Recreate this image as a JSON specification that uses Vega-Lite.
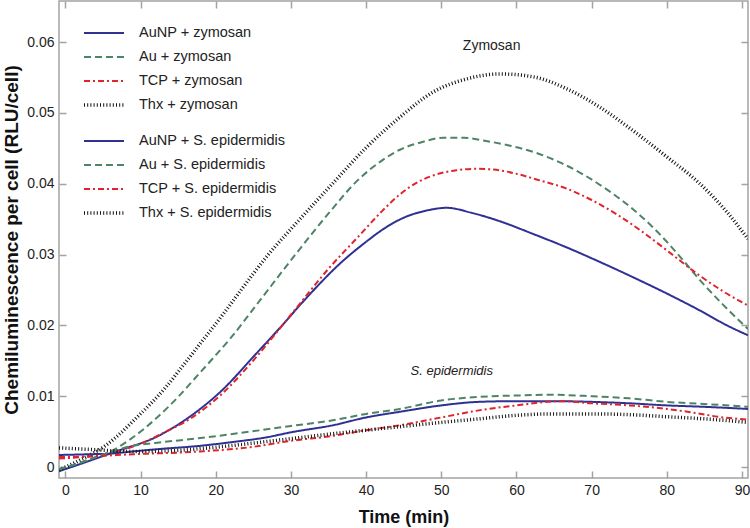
{
  "$schema": "https://vega.github.io/schema/vega-lite/v6.json",
  "width": 689,
  "height": 477,
  "autosize": {"type": "none"},
  "padding": {"left": 59, "top": 1, "right": 2, "bottom": 50},
  "background": "white",
  "config": {
    "font": "Liberation Sans",
    "view": {"stroke": "#a3a3a3", "strokeWidth": 1.5},
    "axis": {
      "domain": false,
      "grid": false,
      "tickColor": "#a3a3a3",
      "tickWidth": 1.5,
      "tickSize": -7,
      "labelFont": "Liberation Sans",
      "labelFontSize": 14,
      "labelColor": "#222222",
      "titleFont": "Liberation Sans",
      "titleFontWeight": "bold",
      "titleColor": "#111111"
    },
    "legend": {
      "labelFont": "Liberation Sans",
      "labelFontSize": 14.5,
      "labelColor": "#222222",
      "labelLimit": 0,
      "clipHeight": 20,
      "rowPadding": 4,
      "padding": 0,
      "symbolType": "stroke",
      "symbolSize": 1600,
      "labelOffset": 13,
      "orient": "none",
      "legendX": 23
    }
  },
  "datasets": {
    "zym": [
      {"s": "AuNP + zymosan", "t": -0.85, "v": -0.0006},
      {"s": "AuNP + zymosan", "t": 3, "v": 0.0008},
      {"s": "AuNP + zymosan", "t": 7, "v": 0.0023},
      {"s": "AuNP + zymosan", "t": 12, "v": 0.0042},
      {"s": "AuNP + zymosan", "t": 16.4, "v": 0.0070},
      {"s": "AuNP + zymosan", "t": 20.8, "v": 0.0108},
      {"s": "AuNP + zymosan", "t": 25.2, "v": 0.0158},
      {"s": "AuNP + zymosan", "t": 28.5, "v": 0.0196},
      {"s": "AuNP + zymosan", "t": 32, "v": 0.0238},
      {"s": "AuNP + zymosan", "t": 36.5, "v": 0.0287},
      {"s": "AuNP + zymosan", "t": 40, "v": 0.0318},
      {"s": "AuNP + zymosan", "t": 42.3, "v": 0.0336},
      {"s": "AuNP + zymosan", "t": 45, "v": 0.0352},
      {"s": "AuNP + zymosan", "t": 48, "v": 0.0362},
      {"s": "AuNP + zymosan", "t": 50.7, "v": 0.0366},
      {"s": "AuNP + zymosan", "t": 54, "v": 0.0359},
      {"s": "AuNP + zymosan", "t": 57.8, "v": 0.0347},
      {"s": "AuNP + zymosan", "t": 62, "v": 0.0330},
      {"s": "AuNP + zymosan", "t": 66.7, "v": 0.0310},
      {"s": "AuNP + zymosan", "t": 71, "v": 0.0290},
      {"s": "AuNP + zymosan", "t": 75.5, "v": 0.0268},
      {"s": "AuNP + zymosan", "t": 80, "v": 0.0245},
      {"s": "AuNP + zymosan", "t": 84.4, "v": 0.0221},
      {"s": "AuNP + zymosan", "t": 88, "v": 0.0200},
      {"s": "AuNP + zymosan", "t": 90.8, "v": 0.0186},

      {"s": "Au + zymosan", "t": -0.85, "v": -0.0004},
      {"s": "Au + zymosan", "t": 3, "v": 0.0010},
      {"s": "Au + zymosan", "t": 6, "v": 0.0022},
      {"s": "Au + zymosan", "t": 9, "v": 0.0042},
      {"s": "Au + zymosan", "t": 12, "v": 0.0068},
      {"s": "Au + zymosan", "t": 15, "v": 0.0099},
      {"s": "Au + zymosan", "t": 17.3, "v": 0.0126},
      {"s": "Au + zymosan", "t": 20, "v": 0.0158},
      {"s": "Au + zymosan", "t": 21.9, "v": 0.0181},
      {"s": "Au + zymosan", "t": 25.5, "v": 0.0230},
      {"s": "Au + zymosan", "t": 30, "v": 0.0292},
      {"s": "Au + zymosan", "t": 35, "v": 0.0358},
      {"s": "Au + zymosan", "t": 38.8, "v": 0.0404},
      {"s": "Au + zymosan", "t": 42, "v": 0.0432},
      {"s": "Au + zymosan", "t": 44.5, "v": 0.0448},
      {"s": "Au + zymosan", "t": 47.5, "v": 0.0459},
      {"s": "Au + zymosan", "t": 50.3, "v": 0.0465},
      {"s": "Au + zymosan", "t": 53, "v": 0.0465},
      {"s": "Au + zymosan", "t": 55.6, "v": 0.0461},
      {"s": "Au + zymosan", "t": 59, "v": 0.0454},
      {"s": "Au + zymosan", "t": 62.2, "v": 0.0445},
      {"s": "Au + zymosan", "t": 66, "v": 0.0429},
      {"s": "Au + zymosan", "t": 68.9, "v": 0.0413},
      {"s": "Au + zymosan", "t": 72, "v": 0.0392},
      {"s": "Au + zymosan", "t": 75.5, "v": 0.0364},
      {"s": "Au + zymosan", "t": 78, "v": 0.0340},
      {"s": "Au + zymosan", "t": 80, "v": 0.0318},
      {"s": "Au + zymosan", "t": 82, "v": 0.0294},
      {"s": "Au + zymosan", "t": 84.4, "v": 0.0264},
      {"s": "Au + zymosan", "t": 87.5, "v": 0.0229},
      {"s": "Au + zymosan", "t": 90.8, "v": 0.0195},

      {"s": "TCP + zymosan", "t": -0.85, "v": 0.0012},
      {"s": "TCP + zymosan", "t": 3, "v": 0.0015},
      {"s": "TCP + zymosan", "t": 7, "v": 0.0022},
      {"s": "TCP + zymosan", "t": 10, "v": 0.0033},
      {"s": "TCP + zymosan", "t": 12.8, "v": 0.0047},
      {"s": "TCP + zymosan", "t": 16.4, "v": 0.0067},
      {"s": "TCP + zymosan", "t": 20.8, "v": 0.0103},
      {"s": "TCP + zymosan", "t": 25.2, "v": 0.0153},
      {"s": "TCP + zymosan", "t": 30, "v": 0.0215},
      {"s": "TCP + zymosan", "t": 35, "v": 0.0280},
      {"s": "TCP + zymosan", "t": 39.2, "v": 0.0328},
      {"s": "TCP + zymosan", "t": 42, "v": 0.0360},
      {"s": "TCP + zymosan", "t": 44.5, "v": 0.0385},
      {"s": "TCP + zymosan", "t": 47, "v": 0.0403},
      {"s": "TCP + zymosan", "t": 49, "v": 0.0412},
      {"s": "TCP + zymosan", "t": 52, "v": 0.0419},
      {"s": "TCP + zymosan", "t": 54.7, "v": 0.0421},
      {"s": "TCP + zymosan", "t": 57, "v": 0.0420},
      {"s": "TCP + zymosan", "t": 60, "v": 0.0414},
      {"s": "TCP + zymosan", "t": 63, "v": 0.0405},
      {"s": "TCP + zymosan", "t": 66.7, "v": 0.0393},
      {"s": "TCP + zymosan", "t": 70, "v": 0.0377},
      {"s": "TCP + zymosan", "t": 73.3, "v": 0.0357},
      {"s": "TCP + zymosan", "t": 76.5, "v": 0.0334},
      {"s": "TCP + zymosan", "t": 80, "v": 0.0306},
      {"s": "TCP + zymosan", "t": 84.4, "v": 0.0270},
      {"s": "TCP + zymosan", "t": 87.5, "v": 0.0248},
      {"s": "TCP + zymosan", "t": 90.8, "v": 0.0228},

      {"s": "Thx + zymosan", "t": -0.85, "v": -0.0004},
      {"s": "Thx + zymosan", "t": 2, "v": 0.0010},
      {"s": "Thx + zymosan", "t": 5.3, "v": 0.0030},
      {"s": "Thx + zymosan", "t": 9.7, "v": 0.0072},
      {"s": "Thx + zymosan", "t": 13.3, "v": 0.0112},
      {"s": "Thx + zymosan", "t": 16, "v": 0.0148},
      {"s": "Thx + zymosan", "t": 18.5, "v": 0.0182},
      {"s": "Thx + zymosan", "t": 21, "v": 0.0216},
      {"s": "Thx + zymosan", "t": 23.3, "v": 0.0249},
      {"s": "Thx + zymosan", "t": 27, "v": 0.0300},
      {"s": "Thx + zymosan", "t": 31.2, "v": 0.0350},
      {"s": "Thx + zymosan", "t": 35.7, "v": 0.0402},
      {"s": "Thx + zymosan", "t": 40.1, "v": 0.0452},
      {"s": "Thx + zymosan", "t": 44.5, "v": 0.0494},
      {"s": "Thx + zymosan", "t": 49, "v": 0.0530},
      {"s": "Thx + zymosan", "t": 53.4, "v": 0.0548},
      {"s": "Thx + zymosan", "t": 57.8, "v": 0.0555},
      {"s": "Thx + zymosan", "t": 62.2, "v": 0.0551},
      {"s": "Thx + zymosan", "t": 66.7, "v": 0.0534},
      {"s": "Thx + zymosan", "t": 71.1, "v": 0.0508},
      {"s": "Thx + zymosan", "t": 75.5, "v": 0.0475},
      {"s": "Thx + zymosan", "t": 80, "v": 0.0438},
      {"s": "Thx + zymosan", "t": 84.4, "v": 0.0400},
      {"s": "Thx + zymosan", "t": 88, "v": 0.0360},
      {"s": "Thx + zymosan", "t": 90.8, "v": 0.0322}
    ],
    "epi": [
      {"s": "AuNP + S. epidermidis", "t": -0.85, "v": 0.0017},
      {"s": "AuNP + S. epidermidis", "t": 3, "v": 0.0018},
      {"s": "AuNP + S. epidermidis", "t": 6, "v": 0.0019},
      {"s": "AuNP + S. epidermidis", "t": 9, "v": 0.0022},
      {"s": "AuNP + S. epidermidis", "t": 12, "v": 0.0025},
      {"s": "AuNP + S. epidermidis", "t": 18, "v": 0.0030},
      {"s": "AuNP + S. epidermidis", "t": 22, "v": 0.0035},
      {"s": "AuNP + S. epidermidis", "t": 26.8, "v": 0.0042},
      {"s": "AuNP + S. epidermidis", "t": 30, "v": 0.0049},
      {"s": "AuNP + S. epidermidis", "t": 35.6, "v": 0.0059},
      {"s": "AuNP + S. epidermidis", "t": 40, "v": 0.0070},
      {"s": "AuNP + S. epidermidis", "t": 44.5, "v": 0.0078},
      {"s": "AuNP + S. epidermidis", "t": 50, "v": 0.0087},
      {"s": "AuNP + S. epidermidis", "t": 55, "v": 0.0092},
      {"s": "AuNP + S. epidermidis", "t": 60, "v": 0.0093},
      {"s": "AuNP + S. epidermidis", "t": 65, "v": 0.0093},
      {"s": "AuNP + S. epidermidis", "t": 70, "v": 0.0092},
      {"s": "AuNP + S. epidermidis", "t": 75, "v": 0.0090},
      {"s": "AuNP + S. epidermidis", "t": 80, "v": 0.0087},
      {"s": "AuNP + S. epidermidis", "t": 85, "v": 0.0085},
      {"s": "AuNP + S. epidermidis", "t": 90.8, "v": 0.0082},

      {"s": "Au + S. epidermidis", "t": -0.85, "v": -0.0003},
      {"s": "Au + S. epidermidis", "t": 2, "v": 0.0006},
      {"s": "Au + S. epidermidis", "t": 4, "v": 0.0014},
      {"s": "Au + S. epidermidis", "t": 6, "v": 0.0021},
      {"s": "Au + S. epidermidis", "t": 9, "v": 0.0030},
      {"s": "Au + S. epidermidis", "t": 12, "v": 0.0034},
      {"s": "Au + S. epidermidis", "t": 18, "v": 0.0041},
      {"s": "Au + S. epidermidis", "t": 24.6, "v": 0.0050},
      {"s": "Au + S. epidermidis", "t": 30, "v": 0.0058},
      {"s": "Au + S. epidermidis", "t": 35.6, "v": 0.0066},
      {"s": "Au + S. epidermidis", "t": 40, "v": 0.0075},
      {"s": "Au + S. epidermidis", "t": 44.5, "v": 0.0082},
      {"s": "Au + S. epidermidis", "t": 50, "v": 0.0094},
      {"s": "Au + S. epidermidis", "t": 55, "v": 0.0099},
      {"s": "Au + S. epidermidis", "t": 60, "v": 0.0101},
      {"s": "Au + S. epidermidis", "t": 64.6, "v": 0.0102},
      {"s": "Au + S. epidermidis", "t": 70, "v": 0.0100},
      {"s": "Au + S. epidermidis", "t": 75, "v": 0.0097},
      {"s": "Au + S. epidermidis", "t": 80, "v": 0.0092},
      {"s": "Au + S. epidermidis", "t": 85, "v": 0.0089},
      {"s": "Au + S. epidermidis", "t": 90.8, "v": 0.0085},

      {"s": "TCP + S. epidermidis", "t": -0.85, "v": 0.0014},
      {"s": "TCP + S. epidermidis", "t": 3, "v": 0.0015},
      {"s": "TCP + S. epidermidis", "t": 9, "v": 0.0018},
      {"s": "TCP + S. epidermidis", "t": 18, "v": 0.0022},
      {"s": "TCP + S. epidermidis", "t": 24.6, "v": 0.0028},
      {"s": "TCP + S. epidermidis", "t": 30, "v": 0.0037},
      {"s": "TCP + S. epidermidis", "t": 35.6, "v": 0.0044},
      {"s": "TCP + S. epidermidis", "t": 40, "v": 0.0052},
      {"s": "TCP + S. epidermidis", "t": 44.5, "v": 0.0059},
      {"s": "TCP + S. epidermidis", "t": 50, "v": 0.0070},
      {"s": "TCP + S. epidermidis", "t": 55, "v": 0.0080},
      {"s": "TCP + S. epidermidis", "t": 60, "v": 0.0087},
      {"s": "TCP + S. epidermidis", "t": 65.9, "v": 0.0093},
      {"s": "TCP + S. epidermidis", "t": 70, "v": 0.0090},
      {"s": "TCP + S. epidermidis", "t": 75, "v": 0.0087},
      {"s": "TCP + S. epidermidis", "t": 80, "v": 0.0082},
      {"s": "TCP + S. epidermidis", "t": 84, "v": 0.0076},
      {"s": "TCP + S. epidermidis", "t": 86.8, "v": 0.0071},
      {"s": "TCP + S. epidermidis", "t": 90.8, "v": 0.0067},

      {"s": "Thx + S. epidermidis", "t": -0.85, "v": 0.0027},
      {"s": "Thx + S. epidermidis", "t": 3, "v": 0.0025},
      {"s": "Thx + S. epidermidis", "t": 9, "v": 0.0022},
      {"s": "Thx + S. epidermidis", "t": 14, "v": 0.0023},
      {"s": "Thx + S. epidermidis", "t": 18, "v": 0.0026},
      {"s": "Thx + S. epidermidis", "t": 26.8, "v": 0.0036},
      {"s": "Thx + S. epidermidis", "t": 30, "v": 0.0040},
      {"s": "Thx + S. epidermidis", "t": 35.6, "v": 0.0047},
      {"s": "Thx + S. epidermidis", "t": 40, "v": 0.0052},
      {"s": "Thx + S. epidermidis", "t": 44.5, "v": 0.0057},
      {"s": "Thx + S. epidermidis", "t": 50, "v": 0.0063},
      {"s": "Thx + S. epidermidis", "t": 55, "v": 0.0068},
      {"s": "Thx + S. epidermidis", "t": 60, "v": 0.0073},
      {"s": "Thx + S. epidermidis", "t": 65, "v": 0.0075},
      {"s": "Thx + S. epidermidis", "t": 70, "v": 0.0075},
      {"s": "Thx + S. epidermidis", "t": 75, "v": 0.0074},
      {"s": "Thx + S. epidermidis", "t": 80, "v": 0.0071},
      {"s": "Thx + S. epidermidis", "t": 85, "v": 0.0068},
      {"s": "Thx + S. epidermidis", "t": 90.8, "v": 0.0063}
    ],
    "zlabel": [{"t": 56.7, "v": 0.0595, "label": "Zymosan"}],
    "elabel": [{"t": 51.4, "v": 0.0136, "label": "S. epidermidis"}]
  },
  "layer": [
    {
      "data": {"name": "zym"},
      "mark": {"type": "line", "interpolate": "monotone", "clip": true},
      "encoding": {
        "x": {
          "field": "t", "type": "quantitative",
          "scale": {"domain": [-0.85, 90.8], "nice": false, "zero": false},
          "axis": {"orient": "bottom", "values": [0, 10, 20, 30, 40, 50, 60, 70, 80, 90], "title": "Time (min)", "titleFontSize": 18, "labelPadding": 12, "titlePadding": 11, "labelFlush": false}
        },
        "y": {
          "field": "v", "type": "quantitative",
          "scale": {"domain": [-0.00155, 0.0658], "nice": false, "zero": false},
          "axis": {"orient": "left", "values": [0, 0.01, 0.02, 0.03, 0.04, 0.05, 0.06], "labelExpr": "datum.value == 0 ? '0' : format(datum.value, '.2f')", "title": "Chemiluminescence per cell (RLU/cell)", "titleFontSize": 19, "labelPadding": 12, "titlePadding": 5, "labelFlush": false}
        },
        "color": {
          "field": "s", "type": "nominal",
          "scale": {"domain": ["AuNP + zymosan", "Au + zymosan", "TCP + zymosan", "Thx + zymosan"], "range": ["#2e3192", "#4e8466", "#e0242b", "#111111"]},
          "legend": {"title": null, "legendY": 22}
        },
        "strokeDash": {
          "field": "s", "type": "nominal",
          "scale": {"domain": ["AuNP + zymosan", "Au + zymosan", "TCP + zymosan", "Thx + zymosan"], "range": [[1, 0], [7, 4], [6, 3, 2, 3], [1, 2.2]]},
          "legend": {"title": null, "legendY": 22}
        },
        "strokeWidth": {
          "field": "s", "type": "ordinal",
          "scale": {"type": "ordinal", "domain": ["AuNP + zymosan", "Au + zymosan", "TCP + zymosan", "Thx + zymosan"], "range": [2, 2, 2, 3.5]},
          "legend": {"title": null, "legendY": 22}
        }
      }
    },
    {
      "data": {"name": "epi"},
      "mark": {"type": "line", "interpolate": "monotone", "clip": true},
      "encoding": {
        "x": {"field": "t", "type": "quantitative", "scale": {"domain": [-0.85, 90.8], "nice": false, "zero": false}, "axis": null},
        "y": {"field": "v", "type": "quantitative", "scale": {"domain": [-0.00155, 0.0658], "nice": false, "zero": false}, "axis": null},
        "color": {
          "field": "s", "type": "nominal",
          "scale": {"domain": ["AuNP + S. epidermidis", "Au + S. epidermidis", "TCP + S. epidermidis", "Thx + S. epidermidis"], "range": ["#2e3192", "#4e8466", "#e0242b", "#111111"]},
          "legend": {"title": null, "legendY": 130}
        },
        "strokeDash": {
          "field": "s", "type": "nominal",
          "scale": {"domain": ["AuNP + S. epidermidis", "Au + S. epidermidis", "TCP + S. epidermidis", "Thx + S. epidermidis"], "range": [[1, 0], [7, 4], [6, 3, 2, 3], [1, 2.2]]},
          "legend": {"title": null, "legendY": 130}
        },
        "strokeWidth": {
          "field": "s", "type": "ordinal",
          "scale": {"type": "ordinal", "domain": ["AuNP + S. epidermidis", "Au + S. epidermidis", "TCP + S. epidermidis", "Thx + S. epidermidis"], "range": [2, 2, 2, 3.5]},
          "legend": {"title": null, "legendY": 130}
        }
      }
    },
    {
      "data": {"name": "zlabel"},
      "mark": {"type": "text", "fontSize": 14, "color": "#222222", "font": "Liberation Sans"},
      "encoding": {
        "x": {"field": "t", "type": "quantitative", "scale": {"domain": [-0.85, 90.8], "nice": false, "zero": false},
              "axis": {"orient": "top", "values": [0, 10, 20, 30, 40, 50, 60, 70, 80, 90], "labels": false, "title": null}},
        "y": {"field": "v", "type": "quantitative", "scale": {"domain": [-0.00155, 0.0658], "nice": false, "zero": false},
              "axis": {"orient": "right", "values": [0, 0.01, 0.02, 0.03, 0.04, 0.05, 0.06], "labels": false, "title": null}},
        "text": {"field": "label"}
      }
    },
    {
      "data": {"name": "elabel"},
      "mark": {"type": "text", "fontSize": 13, "fontStyle": "italic", "color": "#222222", "font": "Liberation Sans"},
      "encoding": {
        "x": {"field": "t", "type": "quantitative", "scale": {"domain": [-0.85, 90.8], "nice": false, "zero": false}, "axis": null},
        "y": {"field": "v", "type": "quantitative", "scale": {"domain": [-0.00155, 0.0658], "nice": false, "zero": false}, "axis": null},
        "text": {"field": "label"}
      }
    }
  ],
  "resolve": {
    "scale": {"color": "independent", "strokeDash": "independent", "strokeWidth": "independent"},
    "axis": {"x": "independent", "y": "independent"}
  }
}
